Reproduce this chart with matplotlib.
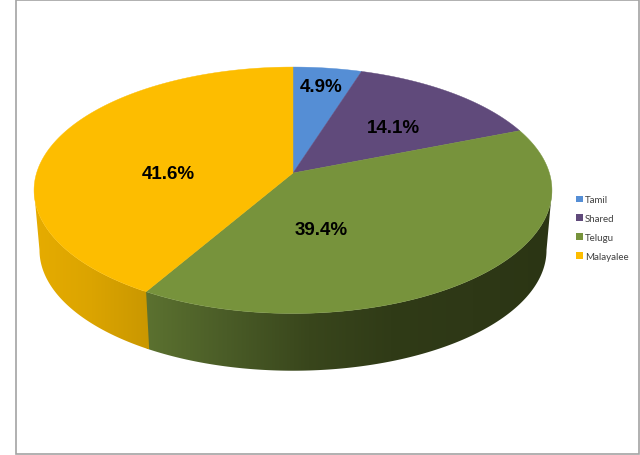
import numpy as np
import matplotlib
matplotlib.use("Agg")
import matplotlib.pyplot as plt
from matplotlib.colors import LinearSegmentedColormap
from matplotlib.patches import Patch, Polygon, Rectangle

categories = ["Tamil", "Shared", "Telugu", "Malayalee"]
shares = [4.9, 14.1, 39.4, 41.6]
labels = ["4.9%", "14.1%", "39.4%", "41.6%"]
colors = ["#558ED5", "#604A7B", "#77933C", "#FDBD00"]

# side wall shading, left to right across the pie
side_shades = {
    2: ["#5C7230", "#4A5C27", "#39461C", "#303B17", "#2E3816", "#2B3514"],
    3: ["#E6AC00", "#DBA400", "#C99700"],
}
label_pos = [(321, 87), (393, 129), (321, 231), (168, 175)]

# perspective projection of the pie disc, in pixels
CX, CY = 293, 174
RX, RY, TILT = 256.4, 120.8, 0.14
BOTTOM_CY, BOTTOM_SCALE = 234.2, 0.979


def project(theta):
    u, v = np.sin(theta), np.cos(theta)
    w = 1 + TILT * v
    return RX * u / w, -RY * v / w


def top_rim(theta):
    dx, dy = project(theta)
    return np.column_stack([CX + dx, CY + dy])


def bottom_rim(theta):
    dx, dy = project(theta)
    return np.column_stack([CX + BOTTOM_SCALE * dx, BOTTOM_CY + BOTTOM_SCALE * dy])


fig = plt.figure(figsize=(6.4, 4.56), dpi=100)
ax = fig.add_axes([0, 0, 1, 1])
ax.axis("off")

ax.add_patch(Rectangle((15.5, 0.5), 623, 454.5, facecolor="white", edgecolor="#A3A3A3",
                       linewidth=1.2, zorder=0))

edges = np.radians(np.cumsum([0] + shares) * 3.6)

# only the front of the rim shows, between the widest points of the disc
sweep = np.linspace(0, 2 * np.pi, 3600)
sweep_x = top_rim(sweep)[:, 0]
theta_right, theta_left = sweep[sweep_x.argmax()], sweep[sweep_x.argmin()]

# side wall first, a horizontal gradient clipped to the wall outline
for i, shades in side_shades.items():
    # small overlap so no white seam shows where two walls meet
    theta = np.linspace(max(edges[i], theta_right), min(edges[i + 1] + 0.01, theta_left), 400)
    top, bot = top_rim(theta), bottom_rim(theta)
    outline = np.vstack([top, bot[::-1]])
    cmap = LinearSegmentedColormap.from_list(f"side{i}", shades)
    x0, x1 = top[:, 0].min(), top[:, 0].max()
    y0, y1 = outline[:, 1].min(), outline[:, 1].max()
    im = ax.imshow(np.linspace(0, 1, 256).reshape(1, -1), cmap=cmap, aspect="auto",
                   extent=(x0, x1 + 3, y1, y0), interpolation="bilinear", zorder=0.5 + 0.1 * i)
    im.set_clip_path(Polygon(outline, closed=True, transform=ax.transData))

# top face
for i in range(len(shares)):
    theta = np.linspace(edges[i], edges[i + 1], 200)
    rim = top_rim(theta)
    ax.fill(np.r_[CX, rim[:, 0]], np.r_[CY, rim[:, 1]], color=colors[i], linewidth=0.3)

for text, (x, y) in zip(labels, label_pos):
    ax.text(x, y, text, ha="center", va="center", family="Liberation Sans",
            fontweight="bold", fontsize=13.5, color="black")

ax.set_xlim(0, 640)
ax.set_ylim(456, 0)

handles = [Patch(facecolor=c, edgecolor="none", label=n) for n, c in zip(categories, colors)]
ax.legend(handles=handles, loc="center left", bbox_to_anchor=(573.5 / 640, 1 - 229 / 456),
          frameon=False, prop={"family": "Lato", "size": 7}, labelcolor="#404040",
          handlelength=0.65, handleheight=0.7, handletextpad=0.2, labelspacing=1.0,
          borderpad=0, borderaxespad=0.3)

fig.savefig("out.png", dpi=100, facecolor="white")
